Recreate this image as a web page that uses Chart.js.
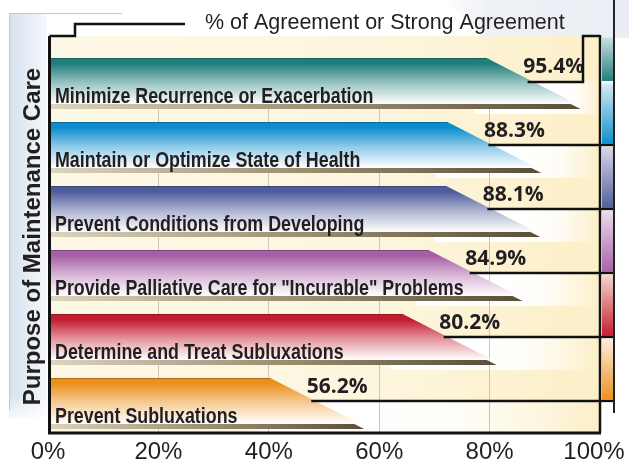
<!DOCTYPE html>
<html><head><meta charset="utf-8">
<script src="https://cdn.jsdelivr.net/npm/chart.js@4"></script>
<style>html,body{margin:0;padding:0;background:#fff}canvas{display:block}</style>
</head><body>
<canvas id="c" width="629" height="463"></canvas>
<script>
// ---- data ----
const categories = [
  "Minimize Recurrence or Exacerbation",
  "Maintain or Optimize State of Health",
  "Prevent Conditions from Developing",
  "Provide Palliative Care for \"Incurable\" Problems",
  "Determine and Treat Subluxations",
  "Prevent Subluxations"
];
const agreementPct = [95.4, 88.3, 88.1, 84.9, 80.2, 56.2];
const xTickValues = [0, 20, 40, 60, 80, 100];
const chartTitle = "% of Agreement or Strong Agreement";
const yAxisTitle = "Purpose of Maintenance Care";

// ---- styles ----
const barColors = ['#1f7e7c', '#0b8dcd', '#4f5c9c', '#a65fa6', '#c31b2f', '#eb901d'];
const swatchLight = ['#cfe3e3', '#dcecf6', '#dcdcea', '#efe0ee', '#f6ddd2', '#fdf0e1'];
const INK = '#231f20';

const deco = {
  id: 'deco',
  beforeDraw(chart) {
    const {ctx, chartArea: ca} = chart;
    const meta = chart.getDatasetMeta(0);
    const L = ca.left, R = ca.right;
    const fTop = ca.top - 16, fBot = ca.bottom - 3;
    ctx.save();
    ctx.fillStyle = '#fff';
    ctx.fillRect(0, 0, chart.width, chart.height);
    // top-right tint
    let g = ctx.createLinearGradient(440, 0, 629, 0);
    g.addColorStop(0, 'rgba(238,241,246,0)');
    g.addColorStop(0.25, 'rgba(238,241,246,1)');
    g.addColorStop(1, 'rgba(234,238,244,1)');
    ctx.fillStyle = g;
    ctx.beginPath();
    ctx.moveTo(445, 0); ctx.lineTo(629, 0); ctx.lineTo(629, 38); ctx.lineTo(485, 38);
    ctx.closePath(); ctx.fill();
    // left panel
    g = ctx.createLinearGradient(9, 0, 47, 0);
    g.addColorStop(0, '#d4e1ee');
    g.addColorStop(1, '#f7f9fc');
    ctx.fillStyle = g;
    ctx.fillRect(9, 13, 38, 405);
    g = ctx.createLinearGradient(0, 395, 0, 425);
    g.addColorStop(0, 'rgba(255,255,255,0)');
    g.addColorStop(1, 'rgba(255,255,255,1)');
    ctx.fillStyle = g;
    ctx.fillRect(8, 395, 40, 30);
    ctx.fillStyle = '#fff';
    ctx.fillRect(47, 13, 76, fTop - 13);
    ctx.strokeStyle = '#c3c8ce';
    ctx.lineWidth = 1;
    ctx.beginPath();
    ctx.moveTo(122, 13.5); ctx.lineTo(9.5, 13.5); ctx.lineTo(9.5, 410);
    ctx.stroke();
    // plot background
    g = ctx.createLinearGradient(L, 0, R, 0);
    g.addColorStop(0, '#fdf8e6');
    g.addColorStop(0.6, '#fdf6de');
    g.addColorStop(1, '#fcefc8');
    ctx.fillStyle = g;
    ctx.fillRect(L, fTop, R - L, fBot - fTop);
    // white glows right of the slanted bar ends
    meta.data.forEach((bar) => {
      const yt = bar.y - bar.height / 2;
      const gy0 = yt + 23, gy1 = yt + bar.height + 4;
      const gg = ctx.createLinearGradient(bar.x - 10, 0, R, 0);
      gg.addColorStop(0, 'rgba(255,255,255,1)');
      gg.addColorStop(0.45, 'rgba(255,255,255,0.8)');
      gg.addColorStop(1, 'rgba(255,255,255,0)');
      ctx.fillStyle = gg;
      ctx.fillRect(bar.x - 100, gy0, R - (bar.x - 100), gy1 - gy0);
    });
    ctx.restore();
  },
  afterDatasetsDraw(chart) {
    const {ctx, chartArea: ca} = chart;
    const meta = chart.getDatasetMeta(0);
    const L = ca.left, R = ca.right;
    const fTop = ca.top - 16, fBot = ca.bottom - 3;
    ctx.save();
    // cover grid tops above first bar
    let g = ctx.createLinearGradient(L, 0, R, 0);
    g.addColorStop(0, '#fdf8e6');
    g.addColorStop(0.6, '#fdf6de');
    g.addColorStop(1, '#fcefc8');
    ctx.fillStyle = g;
    const firstTop = meta.data[0].y - meta.data[0].height / 2;
    ctx.fillRect(L, fTop, R - L, firstTop - fTop);

    const lines = [];
    meta.data.forEach((bar, i) => {
      const h = bar.height;
      const yt = bar.y - h / 2;
      const bandB = yt + h - 6;
      const xs = bar.x - 88, xe = bar.x + 2;
      // coloured trapezoid
      const vg = ctx.createLinearGradient(0, yt, 0, bandB);
      vg.addColorStop(0, barColors[i]);
      vg.addColorStop(0.12, barColors[i]);
      vg.addColorStop(0.55, Chart.helpers.color(barColors[i]).mix(Chart.helpers.color('#ffffff'), 0.45).hexString());
      vg.addColorStop(1, '#ffffff');
      ctx.fillStyle = vg;
      ctx.beginPath();
      ctx.moveTo(L, yt); ctx.lineTo(xs, yt); ctx.lineTo(xe, bandB); ctx.lineTo(L, bandB);
      ctx.closePath(); ctx.fill();
      ctx.strokeStyle = Chart.helpers.color(barColors[i]).darken(0.25).rgbString();
      ctx.lineWidth = 1;
      ctx.beginPath(); ctx.moveTo(L, yt + 0.5); ctx.lineTo(xs, yt + 0.5); ctx.stroke();
      // shadow under the bar
      const sg = ctx.createLinearGradient(L, 0, xe + 4, 0);
      sg.addColorStop(0, '#ddd4bd');
      sg.addColorStop(0.45, '#a3977b');
      sg.addColorStop(1, '#5b4e37');
      ctx.fillStyle = sg;
      ctx.beginPath();
      ctx.moveTo(L, bandB); ctx.lineTo(xe - 6, bandB); ctx.lineTo(xe + 4, bandB + 5); ctx.lineTo(L, bandB + 5);
      ctx.closePath(); ctx.fill();
      // category label (condensed bold)
      ctx.fillStyle = INK;
      ctx.save();
      ctx.translate(L + 7, yt + 45);
      ctx.scale(0.83, 1);
      ctx.font = 'bold 21.5px "Liberation Sans", Arial, sans-serif';
      ctx.textAlign = 'left';
      ctx.textBaseline = 'alphabetic';
      ctx.fillText(categories[i], 0, 0);
      ctx.restore();
      // value label
      ctx.font = 'bold 21px "Open Sans", sans-serif';
      ctx.textAlign = 'center';
      ctx.textBaseline = 'alphabetic';
      ctx.fillText(agreementPct[i].toFixed(1) + '%', bar.x - 21, yt + 15);
      lines.push({x0: bar.x - 47, y: yt + 23 + (i === 0 ? 1 : 0)});
    });
    // value box lines
    ctx.strokeStyle = '#111';
    ctx.lineWidth = 2.5;
    lines.forEach((ln, i) => {
      ctx.beginPath();
      if (i === 0) {
        ctx.moveTo(ln.x0, ln.y); ctx.lineTo(R - 17, ln.y); ctx.lineTo(R - 17, fTop); ctx.lineTo(R, fTop);
      } else {
        ctx.moveTo(ln.x0, ln.y); ctx.lineTo(R + 14, ln.y);
      }
      ctx.stroke();
    });
    // right colour strip
    let prev = fTop;
    lines.forEach((ln, i) => {
      const sg = ctx.createLinearGradient(0, prev, 0, ln.y);
      sg.addColorStop(0, swatchLight[i]);
      sg.addColorStop(1, barColors[i]);
      ctx.fillStyle = sg;
      ctx.fillRect(R + 2, prev + 1.5, 11, ln.y - prev - 2.5);
      prev = ln.y;
    });
    ctx.fillStyle = '#fff';
    ctx.fillRect(R + 2, prev + 1.5, 11, fBot - prev);
    ctx.strokeStyle = '#222';
    ctx.lineWidth = 2;
    ctx.beginPath(); ctx.moveTo(R + 14, 0); ctx.lineTo(R + 14, prev + 12); ctx.stroke();
    // white below the frame
    ctx.fillStyle = '#fff';
    ctx.fillRect(L - 3, fBot + 1.5, R - L + 6, ca.bottom - fBot);
    // frame
    ctx.strokeStyle = '#111';
    ctx.lineWidth = 3;
    ctx.beginPath();
    ctx.moveTo(R + 1, fBot); ctx.lineTo(L + 1.5, fBot); ctx.lineTo(L + 1.5, fTop);
    ctx.stroke();
    ctx.lineWidth = 2.5;
    ctx.beginPath();
    ctx.moveTo(L + 1.5, fTop); ctx.lineTo(L + 27, fTop); ctx.lineTo(L + 27, fTop - 12); ctx.lineTo(185, fTop - 12);
    ctx.stroke();
    ctx.beginPath(); ctx.moveTo(R, fTop - 1); ctx.lineTo(R, fBot); ctx.stroke();
    // titles
    ctx.fillStyle = INK;
    ctx.font = '21.5px "Liberation Sans", Arial, sans-serif';
    ctx.textAlign = 'left';
    ctx.textBaseline = 'alphabetic';
    ctx.fillText(chartTitle, 205, 29);
    ctx.save();
    ctx.translate(40, (fTop + fBot) / 2 + 2);
    ctx.rotate(-Math.PI / 2);
    ctx.font = 'bold 24px "Liberation Sans", Arial, sans-serif';
    ctx.textAlign = 'center';
    ctx.fillText(yAxisTitle, 0, 0);
    ctx.restore();
    ctx.restore();
  }
};

new Chart(document.getElementById('c'), {
  type: 'bar',
  data: {
    labels: categories,
    datasets: [{
      data: agreementPct,
      backgroundColor: 'rgba(0,0,0,0)',
      borderWidth: 0,
      barPercentage: 1,
      categoryPercentage: 52 / 64
    }]
  },
  options: {
    indexAxis: 'y',
    responsive: false,
    animation: false,
    events: [],
    layout: { padding: { left: 48, right: 29, top: 52, bottom: 0 } },
    plugins: { legend: { display: false }, tooltip: { enabled: false }, title: { display: false } },
    scales: {
      x: {
        min: 0, max: 100,
        afterBuildTicks: (s) => { s.ticks = xTickValues.map(v => ({ value: v })); },
        afterFit: (s) => { s.paddingLeft = 0; s.paddingRight = 0; s.height = 27; },
        grid: { color: '#c8c5bc', lineWidth: 1, drawTicks: false },
        border: { display: false },
        ticks: {
          padding: 2,
          maxRotation: 0,
          autoSkip: false,
          color: INK,
          font: { family: '"Liberation Sans", Arial, sans-serif', size: 24 },
          callback: (v) => v === 100 ? v + '%\u2002' : v + '%'
        }
      },
      y: { display: false, grid: { display: false } }
    }
  },
  plugins: [deco]
});
</script>
</body></html>
